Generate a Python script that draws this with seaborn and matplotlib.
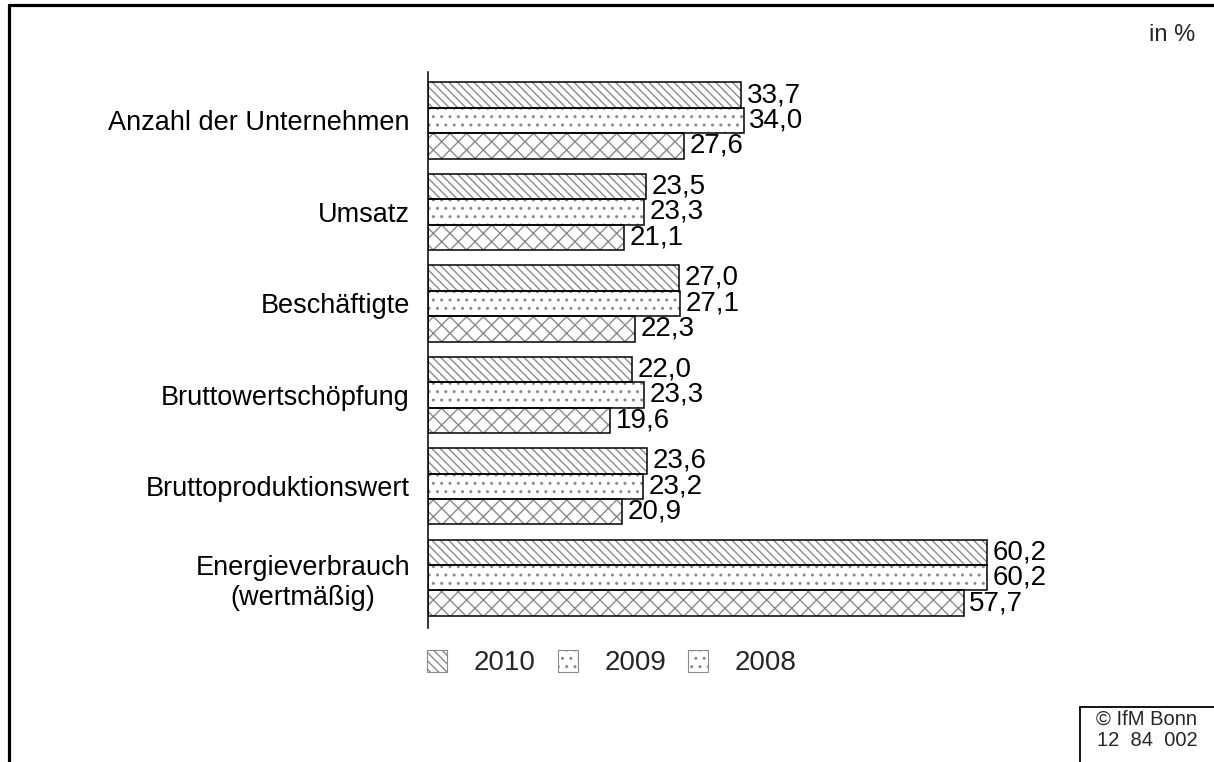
import matplotlib
matplotlib.use('Agg')
import seaborn as sns
import pandas as pd
import matplotlib.pyplot as plt
from matplotlib.patches import Rectangle, Patch
from matplotlib.lines import Line2D

categories = ["Anzahl der Unternehmen", "Umsatz", "Beschäftigte",
              "Bruttowertschöpfung", "Bruttoproduktionswert",
              "Energieverbrauch\n(wertmäßig)"]
years = ["2010", "2009", "2008"]
v2010 = [33.7, 23.5, 27.0, 22.0, 23.6, 60.2]
v2009 = [34.0, 23.3, 27.1, 23.3, 23.2, 60.2]
v2008 = [27.6, 21.1, 22.3, 19.6, 20.9, 57.7]
series = {"2010": v2010, "2009": v2009, "2008": v2008}

rows = []
for y in years:
    for c, v in zip(categories, series[y]):
        rows.append({"cat": c, "year": y, "val": v})
df = pd.DataFrame(rows)

sns.set_theme(style="white")
plt.rcParams['font.family'] = ['Liberation Sans', 'DejaVu Sans']
plt.rcParams['hatch.linewidth'] = 1.0

W, H = 1214, 762
fig = plt.figure(figsize=(W / 100, H / 100), dpi=100)
ax = fig.add_axes([428 / W, 1 - 628 / H, (1100 - 428) / W, (628 - 72) / H])

sns.barplot(data=df, y="cat", x="val", hue="year", hue_order=years,
            order=categories, orient="h", width=0.835,
            palette=["white"] * 3, saturation=1, linewidth=0,
            ax=ax, legend=False)

hatches = ['\\\\\\\\', '..', 'xx']
hatch_col = '#8a8a8a'
fs_lab = 19.5
fs_val = 20
for cont, h, y in zip(ax.containers, hatches, years):
    for bar in cont:
        bar.set_hatch(h)
        bar.set_edgecolor(hatch_col)
        bar.set_linewidth(0)
        outline = Rectangle(bar.get_xy(), bar.get_width(), bar.get_height(),
                            fill=False, edgecolor='black', lw=1.1,
                            zorder=bar.get_zorder() + 0.1)
        ax.add_patch(outline)
    ax.bar_label(cont, labels=[f"{v:.1f}".replace('.', ',') for v in series[y]],
                 padding=4, fontsize=fs_val, color='black')

ax.set_xlim(0, (1100 - 428) / 9.286)
ax.set_ylim(5.55, -0.53)
for s in ['top', 'right', 'bottom']:
    ax.spines[s].set_visible(False)
ax.spines['left'].set_color('black')
ax.spines['left'].set_linewidth(1.1)
ax.set_xticks([])
ax.set_xlabel('')
ax.set_ylabel('')
ax.tick_params(axis='y', length=0, pad=13, labelsize=fs_lab, labelcolor='black')
for lbl in ax.get_yticklabels():
    lbl.set_multialignment('center')

handles = [Patch(facecolor='white', edgecolor=hatch_col, hatch=hatches[0], lw=0.8),
           Patch(facecolor='white', edgecolor=hatch_col, hatch=hatches[1], lw=0.8),
           Patch(facecolor='white', edgecolor=hatch_col, hatch=hatches[1], lw=0.8)]
fig.legend(handles, years, loc='center', bbox_to_anchor=(612 / W, 1 - 663 / H),
           ncol=3, frameon=False, fontsize=fs_val, handlelength=0.72,
           handleheight=0.85, handletextpad=0.95, columnspacing=0.8)

# outer frame
fig.add_artist(Line2D([9 / W, 1], [1 - 5 / H, 1 - 5 / H], color='black', lw=2.3,
                      transform=fig.transFigure))
fig.add_artist(Line2D([9 / W, 9 / W], [0, 1 - 5 / H], color='black', lw=2.3,
                      transform=fig.transFigure))
# copyright box
fig.add_artist(Line2D([1080 / W, 1], [1 - 707 / H, 1 - 707 / H], color='black', lw=1.3,
                      transform=fig.transFigure))
fig.add_artist(Line2D([1080 / W, 1080 / W], [0, 1 - 707 / H], color='black', lw=1.3,
                      transform=fig.transFigure))
fig.text(1147 / W, 1 - 719 / H, "© IfM Bonn", ha='center', va='center', fontsize=14.5)
fig.text(1147 / W, 1 - 741 / H, "12  84  002", ha='center', va='center', fontsize=14.5)
fig.text(1172 / W, 1 - 35 / H, "in %", ha='center', va='center', fontsize=17)

fig.savefig("out.png", dpi=100, facecolor='white')
